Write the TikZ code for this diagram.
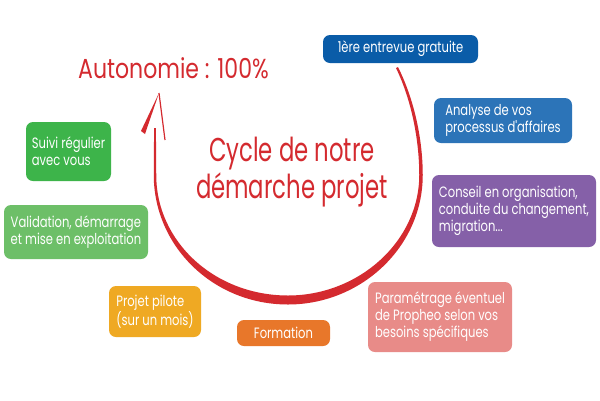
\documentclass[tikz,border=0pt]{standalone}
\usepackage{fontspec}
\setmainfont{Poppins}
\newfontfamily\boxfam{Poppins}[FakeStretch=0.77]
\newfontfamily\titlefam{Poppins}[FakeStretch=0.69]
\newfontfamily\autofam{Poppins}[FakeStretch=0.8]
\definecolor{redc}{HTML}{D42A2F}
\definecolor{blueA}{HTML}{0A5CA8}
\definecolor{blueB}{HTML}{2C74B8}
\definecolor{purpleC}{HTML}{8560A8}
\definecolor{pinkC}{HTML}{E88B88}
\definecolor{orangeC}{HTML}{E8772A}
\definecolor{yellowC}{HTML}{EFA923}
\definecolor{greenL}{HTML}{6DBF68}
\definecolor{greenD}{HTML}{3DB44A}
\tikzset{
  box/.style={rounded corners=7pt, text=white, inner sep=0pt, align=left,
    font=\boxfam\fontsize{15}{17}\selectfont},
  titletext/.style={text=redc, inner sep=0pt, anchor=base, font=\titlefam\fontsize{33}{37}\selectfont},
  autotext/.style={text=redc, inner sep=0pt, anchor=base west, font=\autofam\fontsize{27.5}{30}\selectfont}
}
\begin{document}
\begin{tikzpicture}[x=1pt,y=-1pt]
\useasboundingbox (0,0) rectangle (600,400);
\fill[white] (0,0) rectangle (600,400);
% cycle arc
\fill[redc] (398,67) .. controls (414.5,100) and (422.75,140) .. (422.75,175)
  .. controls (422.75,247) and (361,304.5) .. (288,304.5)
  .. controls (213,304.5) and (153.75,246) .. (153.75,175)
  .. controls (153.75,160) and (154,140) .. (154.2,128)
  -- (155.8,128) .. controls (156,140) and (156.25,160) .. (156.25,175)
  .. controls (156.25,242) and (215,295.5) .. (288,295.5)
  .. controls (359,295.5) and (419.25,241) .. (419.25,175)
  .. controls (419.25,140) and (411.5,100) .. (396,68) -- cycle;
% arrow head
\fill[redc] (159,93) -- (145,134) -- (141,131) -- cycle;
\draw[redc, line width=1.2pt] (159,93) -- (165,140);
% texts
\node[autotext] (auto) at (78,78) {Autonomie : 100\%};
\node[titletext] (t1) at (292,161) {Cycle de notre};
\node[titletext] (t2) at (292,198) {démarche projet};
% boxes
\node[box, fill=blueA, minimum width=155pt, minimum height=28pt] (b1) at (400.5,49) {1ère entrevue gratuite};
\node[box, fill=blueB, minimum width=138pt, minimum height=45pt] (b2) at (503,120.5) {Analyse de vos\\processus d'affaires};
\node[box, fill=purpleC, minimum width=164pt, minimum height=72pt] (b3) at (514,211) {Conseil en organisation,\\conduite du changement,\\migration...};
\node[box, fill=pinkC, minimum width=144pt, minimum height=70pt] (b4) at (440,317) {Paramétrage éventuel\\de Propheo selon vos\\besoins spécifiques};
\node[box, fill=orangeC, minimum width=93pt, minimum height=26pt] (b5) at (283.5,333) {Formation};
\node[box, fill=yellowC, minimum width=92pt, minimum height=51pt] (b6) at (155,311.5) {Projet pilote\\(sur un mois)};
\node[box, fill=greenL, minimum width=144pt, minimum height=54pt] (b7) at (76,232) {Validation, démarrage\\et mise en exploitation};
\node[box, fill=greenD, minimum width=85pt, minimum height=59pt] (b8) at (68.5,151.5) {Suivi régulier\\avec vous};
\end{tikzpicture}
\end{document}
